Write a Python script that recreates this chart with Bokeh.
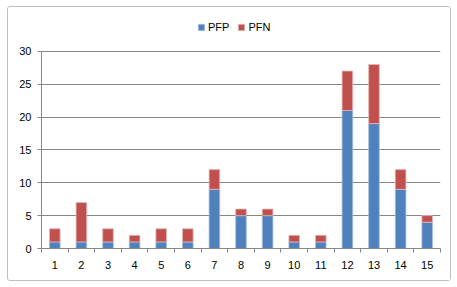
from bokeh.plotting import figure
from bokeh.models import (ColumnDataSource, FixedTicker, LinearAxis, Range1d,
                          Legend, LegendItem, Grid)
from bokeh.embed import file_html
from bokeh.resources import INLINE

categories = [str(i) for i in range(1, 16)]
pfp = [1, 1, 1, 1, 1, 1, 9, 5, 5, 1, 1, 21, 19, 9, 4]
pfn = [2, 6, 2, 1, 2, 2, 3, 1, 1, 1, 1, 6, 9, 3, 1]
y_ticks = [0, 5, 10, 15, 20, 25, 30]
series_names = ["PFP", "PFN"]
colors = ["#4F81BD", "#C0504D"]

xpos = list(range(1, len(categories) + 1))
src = ColumnDataSource(dict(x=xpos, pfp=pfp, pfn=pfn,
                            top2=[a + b for a, b in zip(pfp, pfn)]))

FONT = "Liberation Sans"
OX, OY = 7, 6  # outer chart border offset
YMAX = 30
YTOP = 35.6  # extra headroom inside the frame for the legend

p = figure(width=444, height=275, output_backend="svg", toolbar_location=None,
           x_range=Range1d(0.5, len(categories) + 0.5),
           y_range=Range1d(0, YTOP),
           min_border_left=33, min_border_right=12,
           min_border_top=7, min_border_bottom=34,
           x_axis_type=None, y_axis_type=None,
           margin=(OY, 0, 0, OX))
p.styles = {"border": "1px solid #BFBFBF", "border-radius": "3px"}
p.outline_line_color = None
p.background_fill_color = "white"
p.border_fill_color = "white"

r1 = p.vbar(x="x", bottom=0, top="pfp", width=0.4, source=src,
            fill_color=colors[0], line_color="#A7BFDE", line_width=0.8)
r2 = p.vbar(x="x", bottom="pfp", top="top2", width=0.4, source=src,
            fill_color=colors[1], line_color="#E6B9B8", line_width=0.8)

# y axis
yax = LinearAxis(ticker=FixedTicker(ticks=y_ticks), bounds=(0, YMAX))
yax.axis_line_color = "#868686"
yax.major_tick_line_color = "#868686"
yax.major_tick_out = 4
yax.major_tick_in = 0
yax.minor_tick_line_color = None
yax.major_label_text_font = FONT
yax.major_label_text_font_size = "11px"
yax.major_label_text_color = "#000000"
yax.major_label_standoff = 6
p.add_layout(yax, "left")

# x axis: labels at category centres, tick marks between categories
xl = LinearAxis(ticker=FixedTicker(ticks=xpos,
                                   minor_ticks=[i + 0.5 for i in range(0, len(categories) + 1)]),
                major_label_overrides={x: c for x, c in zip(xpos, categories)})
xl.axis_line_color = "#868686"
xl.major_tick_line_color = None
xl.major_tick_out = 0
xl.major_tick_in = 0
xl.minor_tick_line_color = "#868686"
xl.minor_tick_out = 4
xl.minor_tick_in = 0
xl.major_label_text_font = FONT
xl.major_label_text_font_size = "11px"
xl.major_label_text_color = "#000000"
xl.major_label_standoff = 8
p.add_layout(xl, "below")

g = Grid(dimension=1, ticker=FixedTicker(ticks=y_ticks[1:]),
         grid_line_color="#868686", grid_line_width=1)
p.add_layout(g)

legend = Legend(items=[LegendItem(label=series_names[0], renderers=[r1]),
                       LegendItem(label=series_names[1], renderers=[r2])],
                orientation="horizontal", location=(156, 215))
legend.label_text_font = FONT
legend.label_text_font_size = "11px"
legend.label_text_color = "#000000"
legend.glyph_width = 8
legend.glyph_height = 8
legend.label_standoff = 3
legend.spacing = 8
legend.padding = 0
legend.margin = 0
legend.border_line_color = None
legend.background_fill_alpha = 0
p.add_layout(legend, "center")

open("out.html", "w").write(file_html(p, INLINE))
